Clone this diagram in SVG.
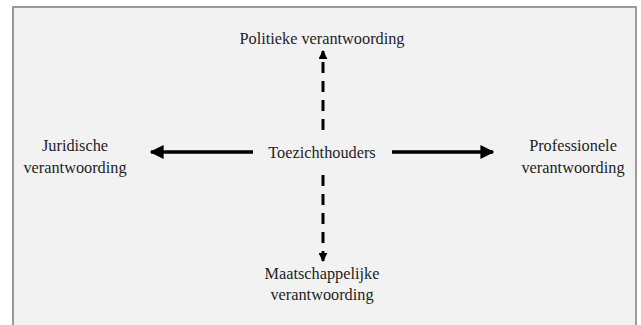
<svg xmlns="http://www.w3.org/2000/svg" width="641" height="325" viewBox="0 0 641 325">
<style>
.t{font-size:16.3px;fill:#1e1e1e;text-anchor:middle}
.solid{stroke:#000;stroke-width:3.5;fill:none}
.dash{stroke:#000;stroke-width:3;fill:none;stroke-dasharray:11 8}
</style>
<defs>
<marker id="ah" viewBox="0 0 10 10" refX="9" refY="5" markerWidth="4" markerHeight="4" orient="auto" markerUnits="strokeWidth">
<path d="M0,0 L10,5 L0,10 z" fill="#000"/>
</marker>
<marker id="ahs" viewBox="0 0 10 10" refX="9" refY="5" markerWidth="3" markerHeight="3" orient="auto" markerUnits="strokeWidth">
<path d="M0,0 L10,5 L0,10 z" fill="#000"/>
</marker>
</defs>
<rect x="0" y="0" width="641" height="325" fill="#fff"/>
<rect x="13" y="7" width="623" height="330" fill="#f2f2f2" stroke="#9a9a9a" stroke-width="2"/>
<g id="connectors">
<line class="dash" x1="323" y1="130" x2="323" y2="51" marker-end="url(#ahs)"/>
<line class="dash" x1="323" y1="175" x2="323" y2="261" marker-end="url(#ahs)"/>
<line class="solid" x1="253" y1="152" x2="151" y2="152" marker-end="url(#ah)"/>
<line class="solid" x1="392" y1="152" x2="493" y2="152" marker-end="url(#ah)"/>
</g>
<g font-family="'Liberation Serif', 'Times New Roman', Tinos, 'DejaVu Serif', serif">
<g id="toezichthouders"><text class="t" x="322" y="158">Toezichthouders</text></g>
<g id="politieke"><text class="t" x="322" y="44">Politieke verantwoording</text></g>
<g id="juridische"><text class="t" x="75" y="151">Juridische</text><text class="t" x="75" y="173">verantwoording</text></g>
<g id="professionele"><text class="t" x="573" y="151">Professionele</text><text class="t" x="573" y="173">verantwoording</text></g>
<g id="maatschappelijke"><text class="t" x="322" y="279">Maatschappelijke</text><text class="t" x="322" y="300">verantwoording</text></g>
</g>
</svg>
